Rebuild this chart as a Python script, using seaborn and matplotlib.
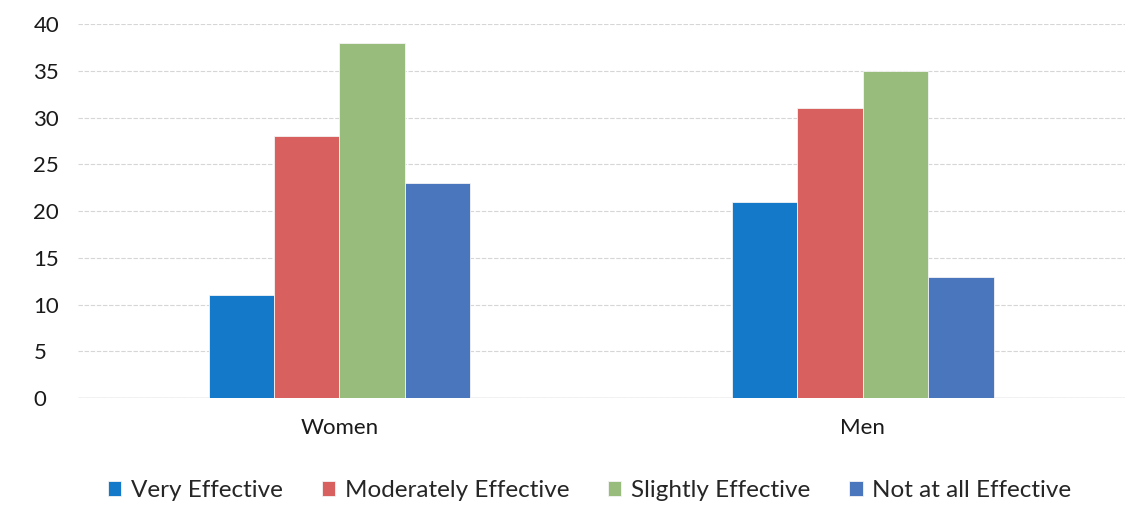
import pandas as pd
import matplotlib.pyplot as plt
import seaborn as sns

# dados
grupos = ['Women', 'Men']
niveis = ['Very Effective', 'Moderately Effective', 'Slightly Effective', 'Not at all Effective']
valores_women = [11, 28, 38, 23]
valores_men = [21, 31, 35, 13]
cores = ['#1479C9', '#D8605F', '#98BC7C', '#4A76BD']

linhas = []
for nivel, w, m in zip(niveis, valores_women, valores_men):
    linhas.append({'Grupo': 'Women', 'Nivel': nivel, 'Valor': w})
    linhas.append({'Grupo': 'Men', 'Nivel': nivel, 'Valor': m})
df = pd.DataFrame(linhas)

sns.set_style('white')
plt.rcParams['font.family'] = ['Lato', 'DejaVu Sans']

fig = plt.figure(figsize=(11.44, 5.26), dpi=100)
ax = fig.add_axes([0.068, 0.243, 0.915, 0.711])
sns.barplot(data=df, x='Grupo', y='Valor', hue='Nivel', order=grupos, hue_order=niveis,
            palette=cores, width=0.5, saturation=1, ax=ax, legend=True,
            edgecolor='#f4f4f4', linewidth=0.6)

ax.set_ylim(0, 40)
ax.set_yticks(range(0, 41, 5))
ax.yaxis.grid(True, color='#d6d6d6', linestyle=(0, (4, 1.5)), linewidth=0.8)
ax.set_axisbelow(True)
for s in ax.spines.values():
    s.set_visible(False)
ax.axhline(0, color='#c4c4c4', linewidth=1, zorder=0)
ax.set_xlabel('')
ax.set_ylabel('')
ax.tick_params(axis='both', labelsize=16, length=0, colors='#1a1a1a')
ax.tick_params(axis='y', pad=32)
ax.tick_params(axis='x', pad=14)
for lbl in ax.get_yticklabels():
    lbl.set_horizontalalignment('left')

ax.legend(loc='upper center', bbox_to_anchor=(0.489, -0.16), ncol=4, frameon=False,
          fontsize=17.5, handlelength=0.55, handleheight=0.55, handletextpad=0.4, columnspacing=1.6)

fig.savefig('out.png', dpi=100)
